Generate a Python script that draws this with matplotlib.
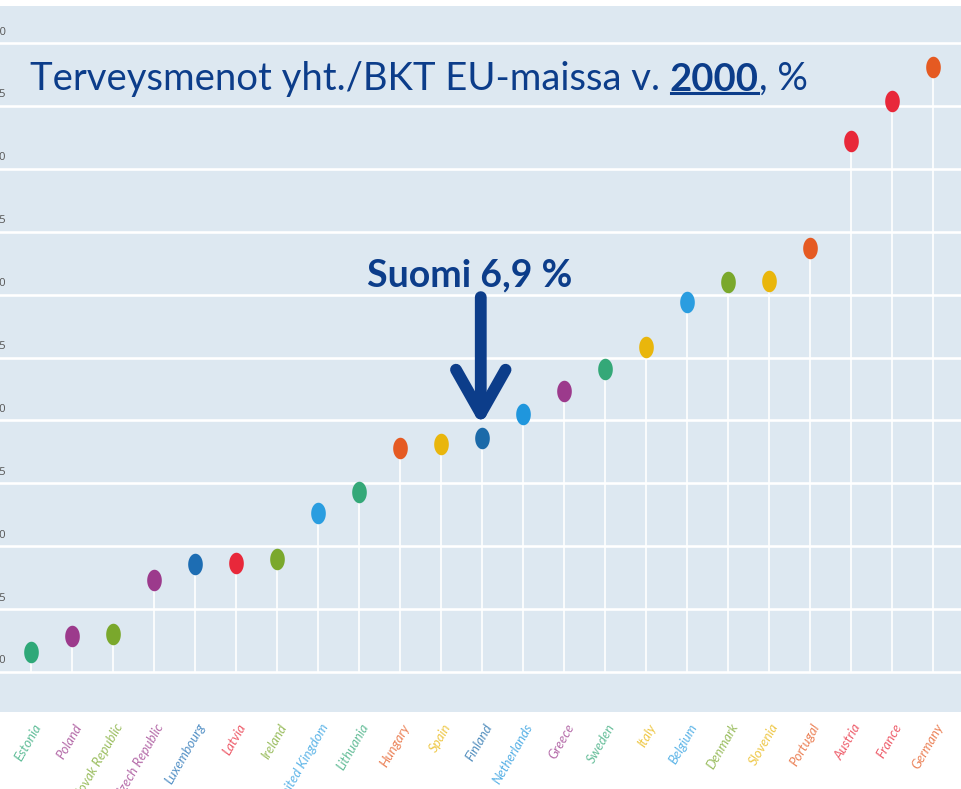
import numpy as np
import matplotlib

matplotlib.use("Agg")
import matplotlib.pyplot as plt  # noqa: E402
from matplotlib.path import Path  # noqa: E402
from matplotlib.lines import Line2D  # noqa: E402
from matplotlib.transforms import ScaledTranslation, blended_transform_factory  # noqa: E402

# ---------------------------------------------------------------------------
# Data
# ---------------------------------------------------------------------------
countries = [
    "Estonia", "Poland", "Slovak Republic", "Czech Republic", "Luxembourg",
    "Latvia", "Ireland", "United Kingdom", "Lithuania", "Hungary", "Spain",
    "Finland", "Netherlands", "Greece", "Sweden", "Italy", "Belgium",
    "Denmark", "Slovenia", "Portugal", "Austria", "France", "Germany",
]
values = [
    5.16, 5.29, 5.30, 5.73, 5.86, 5.87, 5.90, 6.26, 6.43, 6.78, 6.81,
    6.86, 7.05, 7.23, 7.41, 7.58, 7.94, 8.10, 8.11, 8.37, 9.22, 9.54, 9.81,
]
colors = [
    "#2ea878", "#9c3a8c", "#7aa82c", "#9c3a8c", "#1d6db3", "#e8283a",
    "#7aa82c", "#2a9de0", "#34a878", "#e55a22", "#e9b60c", "#1b6aa9",
    "#1f96dd", "#9c3a8c", "#34a878", "#e9b60c", "#2a9de0", "#7aa82c",
    "#e9b60c", "#e55a22", "#e8283a", "#e8283a", "#e55a22",
]
yticks = [5.0, 5.5, 6.0, 6.5, 7.0, 7.5, 8.0, 8.5, 9.0, 9.5, 10.0]
baseline = 5.0
highlight = "Finland"
highlight_label = "Suomi 6,9 %"

BG = "#dde8f1"
NAVY = "#0c3d8a"

fig = plt.figure(figsize=(9.61, 7.89), dpi=100)
ax = fig.add_axes([0, 77 / 789, 1, (712 - 6) / 789])
ax.set_facecolor(BG)
for s in ax.spines.values():
    s.set_visible(False)

x = np.arange(len(countries))
ax.set_xlim(-31 / 41, (961 - 31) / 41)
ax.set_ylim(baseline - 40 / 125.8, 10.0 + 37 / 125.8)

# gridlines
for yt in yticks:
    ax.axhline(yt, color="white", lw=1.9, zorder=1)

# y tick labels, clipped by the figure edge like the original
ax.set_yticks([])
ylab_tr = blended_transform_factory(ax.transAxes, ax.transData) + ScaledTranslation(0, 11 / 100, fig.dpi_scale_trans)
for yt in yticks:
    ax.text(6 / 961, yt, f"{yt:.1f}".replace(".", ","), transform=ylab_tr,
            ha="right", va="center", fontsize=8, color="#555555",
            family="Open Sans", clip_on=False)

# stems
ax.vlines(x, baseline, values, color="white", lw=1.2, zorder=2)

# elliptical dots
th = np.linspace(0, 2 * np.pi, 64)
ellipse = Path(np.column_stack([0.68 * np.cos(th), np.sin(th)]), closed=True)
for xi, v, c in zip(x, values, colors):
    ax.plot(xi, v, marker=ellipse, ms=15.5, color=c, mec="none", zorder=3)

# x tick labels
ax.set_xticks(x)
ax.set_xticklabels(countries)
ax.tick_params(axis="x", length=0, pad=9)
shift = ScaledTranslation(7 / 100, 0, fig.dpi_scale_trans)
for lab, c in zip(ax.get_xticklabels(), colors):
    lab.set_rotation(60)
    lab.set_rotation_mode("anchor")
    lab.set_ha("right")
    lab.set_va("center")
    lab.set_color(c)
    lab.set_alpha(0.75)
    lab.set_fontstyle("italic")
    lab.set_fontsize(9.5)
    lab.set_family("Lato")
    lab.set_transform(lab.get_transform() + shift)

# title with bold, underlined year
tfont = dict(fontsize=27.5, color=NAVY, family="Lato")
t1 = ax.text(30 / 961, 1 - (90 - 6) / 706, "Terveysmenot yht./BKT EU-maissa v. ",
             transform=ax.transAxes, ha="left", va="baseline", **tfont)
t2 = ax.annotate("2000", xy=(1, 0), xycoords=t1, ha="left", va="bottom",
                 fontweight="bold", **tfont)
t3 = ax.annotate(", %", xy=(1, 0), xycoords=t2, ha="left", va="bottom", **tfont)

# Finland callout
fi = countries.index(highlight)
fv = values[fi]
ax.text(fi - 12 / 41, fv + 1.295, highlight_label, ha="center", va="center",
        fontsize=27, fontweight="bold", color=NAVY, family="Lato", zorder=5)
ax.annotate("", xy=(fi - 0.03, fv + 0.1), xytext=(fi - 0.03, fv + 1.12),
            arrowprops=dict(arrowstyle="->,head_length=1.5,head_width=0.85",
                            mutation_scale=21, color=NAVY, lw=8.5,
                            capstyle="round", joinstyle="round",
                            shrinkA=0, shrinkB=0),
            zorder=5)

fig.canvas.draw()
bb = t2.get_window_extent()
uy = bb.y0 + 4
inv = fig.transFigure.inverted()
(x0, y0), (x1, _) = inv.transform([(bb.x0 + 1, uy), (bb.x1 - 1, uy)])
fig.add_artist(Line2D([x0, x1], [y0, y0], transform=fig.transFigure,
                      color=NAVY, lw=2.2))

fig.savefig("out.png", dpi=100, facecolor="white")
